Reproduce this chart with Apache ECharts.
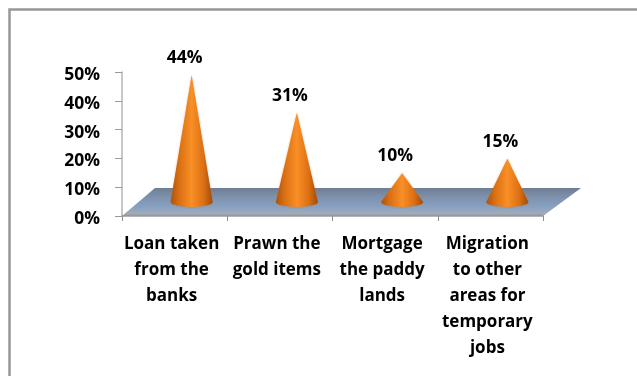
<!DOCTYPE html>
<html>
<head>
<meta charset="utf-8">
<style>html,body{margin:0;padding:0;background:#fff}#c{width:637px;height:376px}</style>
<script src="https://cdn.jsdelivr.net/npm/echarts@6/dist/echarts.min.js"></script>
</head>
<body>
<div id="c"></div>
<script>
const categories = [
  'Loan taken\nfrom the\nbanks',
  'Prawn the\ngold items',
  'Mortgage\nthe paddy\nlands',
  'Migration\nto other\nareas for\ntemporary\njobs'
];
const shares = [44, 31, 10, 15];
const yTicks = [0, 10, 20, 30, 40, 50];

const FONT = '"Open Sans", Lato, sans-serif';
const DEPTH_Y = 28;                 // oblique rise of the chart floor
const DEPTH_X_LEFT = 33, DEPTH_X_RIGHT = 38;
const CONE_SHIFT = 17;
const CONE_HALF = 21;

const chart = echarts.init(document.getElementById('c'), null, {renderer: 'canvas'});

// Floor plane spanning the whole category range, sheared back
function renderFloor(params, api) {
  const cs = params.coordSys;
  const y = api.coord([0, 0])[1];
  const l = cs.x, r = cs.x + cs.width;
  return {
    type: 'polygon',
    shape: {points: [[l, y], [r, y], [r + DEPTH_X_RIGHT, y - DEPTH_Y], [l + DEPTH_X_LEFT, y - DEPTH_Y]]},
    style: {
      fill: new echarts.graphic.LinearGradient(0, 0, 0, 1, [
        {offset: 0, color: '#6f7d94'},
        {offset: 0.3, color: '#7d90ab'},
        {offset: 0.65, color: '#87a0c0'},
        {offset: 0.92, color: '#a0abbb'},
        {offset: 1, color: '#8f9499'}
      ])
    },
    silent: true
  };
}

// Cone standing mid-way on the floor; height comes from the value scale
function renderCone(params, api) {
  const top = api.coord([api.value(0), api.value(1)]);
  const base = api.coord([api.value(0), 0]);
  const dy = DEPTH_Y / 2;
  const cx = base[0] + CONE_SHIFT, by = base[1] - dy;
  const ay = top[1] - dy;
  const ry = 5;
  const body = new echarts.graphic.LinearGradient(0, 0, 1, 0, [
    {offset: 0, color: '#ab520f'},
    {offset: 0.2, color: '#d96f12'},
    {offset: 0.5, color: '#f98f26'},
    {offset: 0.78, color: '#dd7013'},
    {offset: 1, color: '#a04a0c'}
  ]);
  const path = [
    'M', cx, ay,
    'L', cx + CONE_HALF, by,
    'A', CONE_HALF, ry, 0, 0, 1, cx - CONE_HALF, by,
    'Z'
  ].join(' ');
  return {
    type: 'path',
    shape: {
      pathData: path,
      x: cx - CONE_HALF, y: ay, width: CONE_HALF * 2, height: by + ry - ay,
      layout: 'cover'
    },
    style: {fill: body, shadowBlur: 2, shadowColor: 'rgba(200,110,40,0.55)'}
  };
}

chart.setOption({
  animation: false,
  backgroundColor: '#fff',
  grid: {left: 122, right: 94, top: 72, bottom: 160, containLabel: false},
  xAxis: {
    type: 'category',
    data: categories,
    axisLine: {lineStyle: {color: '#9a9a9a', width: 1.5}},
    axisTick: {show: true, alignWithLabel: false, length: 5, lineStyle: {color: '#8c8c8c'}},
    axisLabel: {
      interval: 0, color: '#000', fontFamily: FONT, fontWeight: 'bold',
      fontSize: 17, lineHeight: 26, margin: 15, padding: [0, 6, 0, 0]
    }
  },
  yAxis: {
    type: 'value', min: yTicks[0], max: yTicks[yTicks.length - 1], interval: 10,
    splitLine: {show: false},
    axisLine: {show: true, lineStyle: {color: '#b5b5b5', width: 1.5}},
    axisTick: {show: true, length: 7, lineStyle: {color: '#9a9a9a'}},
    axisLabel: {
      formatter: '{value}%', color: '#000', fontFamily: FONT, fontWeight: 'bold',
      fontSize: 17.5, margin: 22, verticalAlign: 'top', lineHeight: 6
    }
  },
  series: [
    {
      type: 'custom', coordinateSystem: 'cartesian2d',
      renderItem: renderFloor, data: [[0, 0]], silent: true, z: 1, clip: false
    },
    {
      type: 'custom', coordinateSystem: 'cartesian2d',
      renderItem: renderCone,
      data: shares.map((v, i) => [i, v]),
      encode: {x: 0, y: 1}, z: 2, clip: false
    },
    {
      // value captions sit just above each apex
      type: 'scatter', symbolSize: 0, z: 3, clip: false,
      itemStyle: {opacity: 1},
      data: shares.map((v, i) => [i, v]),
      label: {
        show: true, position: 'top', distance: 22, offset: [10, 0],
        formatter: p => p.value[1] + '%', opacity: 1,
        color: '#000', fontFamily: FONT, fontWeight: 'bold', fontSize: 17.5
      }
    }
  ],
  graphic: [
    {type: 'polyline', silent: true,
     shape: {points: [[9.5, 376], [9.5, 9.5], [637, 9.5]]},
     style: {stroke: '#979797', lineWidth: 2.5, fill: 'none'}}
  ]
});
</script>
</body>
</html>
